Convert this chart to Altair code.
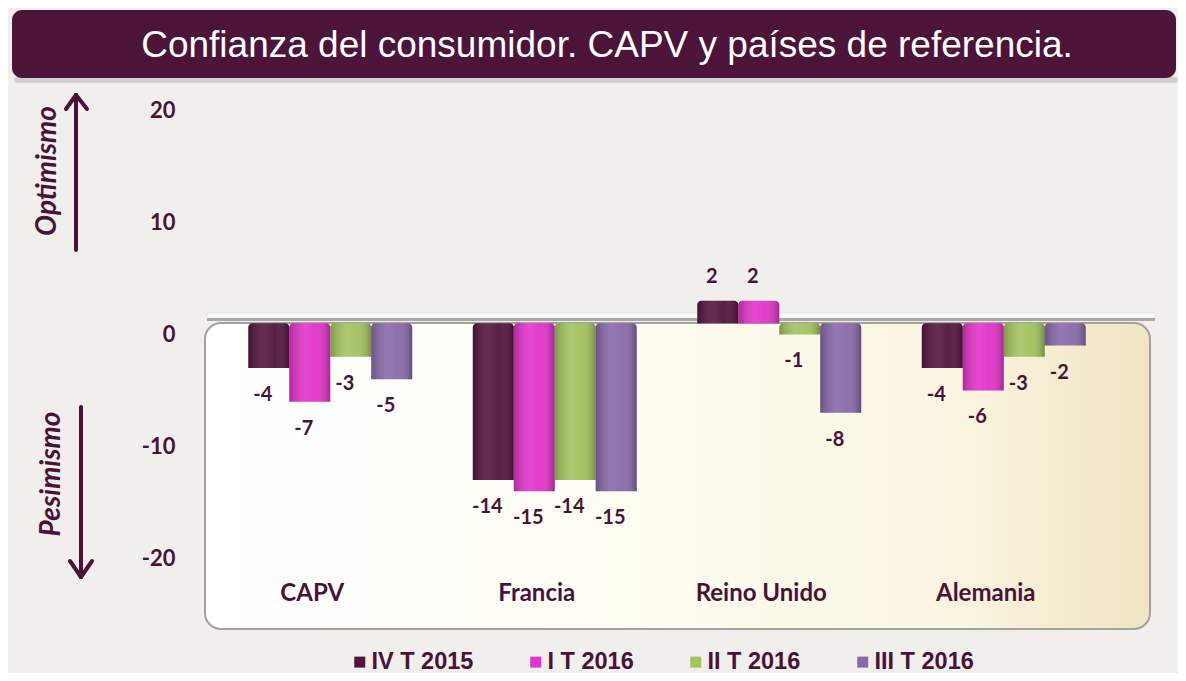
import altair as alt
import pandas as pd

# ---- data ----
countries = ["CAPV", "Francia", "Reino Unido", "Alemania"]
series = ["IV T 2015", "I T 2016", "II T 2016", "III T 2016"]
v_iv2015 = [-4, -14, 2, -4]
v_i2016 = [-7, -15, 2, -6]
v_ii2016 = [-3, -14, -1, -3]
v_iii2016 = [-5, -15, -8, -2]
colors = ["#52163e", "#e233ca", "#a3c35f", "#8869a9"]
y_ticks = [20, 10, 0, -10, -20]
title_text = "Confianza del consumidor. CAPV y países de referencia."
label_up = "Optimismo"
label_down = "Pesimismo"

rows = []
for s, vals in zip(series, [v_iv2015, v_i2016, v_ii2016, v_iii2016]):
    for c, v in zip(countries, vals):
        rows.append({"pais": c, "serie": s, "valor": v})
df = pd.DataFrame(rows)
one = pd.DataFrame({"k": [0]})

DARK = "#4b1239"
W, H = 898, 482

x_enc = alt.X("pais:N", sort=countries,
              scale=alt.Scale(domain=countries, paddingInner=0.27, paddingOuter=0.135),
              axis=alt.Axis(title=None, orient="bottom", labelAngle=0, domain=False, ticks=False,
                            labelFont="Lato", labelFontWeight="bold", labelFontSize=24,
                            labelColor=DARK, labelPadding=0, labelOffset=-18, zindex=2))
xo_enc = alt.XOffset("serie:N", sort=series,
                     scale=alt.Scale(domain=series, paddingInner=0, paddingOuter=0))
y_enc = alt.Y("valor:Q", stack=None,
              scale=alt.Scale(domain=[-23, 20], nice=False, zero=False),
              axis=alt.Axis(values=y_ticks, title=None, grid=False, domain=False, ticks=False,
                            labelExpr="datum.value + ''",
                            labelFont="Lato", labelFontWeight="bold", labelFontSize=22,
                            labelColor=DARK, labelPadding=43, labelOffset=11, zindex=2))

base = alt.Chart(df).transform_calculate(lab="'' + datum.valor")

bars = base.mark_bar(cornerRadiusEnd=4).encode(
    x=x_enc, xOffset=xo_enc, y=y_enc,
    color=alt.Color("serie:N", sort=series,
                    scale=alt.Scale(domain=series, range=colors),
                    legend=alt.Legend(title=None, orient="none", legendX=130, legendY=551,
                                      direction="horizontal", symbolType="square",
                                      symbolSize=121, symbolStrokeWidth=0, symbolOpacity=1,
                                      labelFont="Liberation Sans", labelFontWeight="bold",
                                      labelFontSize=23.5, labelColor=DARK, labelOffset=0,
                                      columnPadding=50, padding=0)),
)

shade = base.mark_bar(
    cornerRadiusEnd=4,
    fill=alt.LinearGradient(
        gradient="linear", x1=0, x2=1, y1=0, y2=0,
        stops=[alt.GradientStop(offset=0, color="rgba(0,0,0,0.22)"),
               alt.GradientStop(offset=0.4, color="rgba(255,255,255,0.10)"),
               alt.GradientStop(offset=0.65, color="rgba(255,255,255,0.04)"),
               alt.GradientStop(offset=1, color="rgba(0,0,0,0.28)")]),
).encode(x=x_enc, xOffset=xo_enc, y=y_enc)

lbl_neg = base.transform_filter("datum.valor < 0").mark_text(
    font="Lato", fontWeight="bold", fontSize=20, color=DARK, baseline="middle", dy=27, dx=-6
).encode(x=x_enc, xOffset=xo_enc, y=y_enc, text="lab:N")

lbl_pos = base.transform_filter("datum.valor >= 0").mark_text(
    font="Lato", fontWeight="bold", fontSize=20, color=DARK, baseline="middle", dy=-24, dx=-6
).encode(x=x_enc, xOffset=xo_enc, y=y_enc, text="lab:N")

deco = alt.Chart(one)

def box(x1, x2, y1, y2, **kw):
    return deco.mark_rect(**kw).encode(x=alt.value(x1), x2=alt.value(x2),
                                       y=alt.value(y1), y2=alt.value(y2))

def seg(x1, y1, x2, y2, w=4):
    return deco.mark_rule(color=DARK, strokeWidth=w, strokeCap="round").encode(
        x=alt.value(x1), y=alt.value(y1), x2=alt.value(x2), y2=alt.value(y2))

title_shadow = box(-204, 960, -22, -16, color="#c4c2be", opacity=0.7, cornerRadius=4)
title_bar = box(-206, 958, -89, -21, color="#4c1439", cornerRadius=10)
title_txt = deco.mark_text(font="Liberation Sans", fontSize=37, color="white",
                           baseline="alphabetic", align="center").encode(
    x=alt.value(389), y=alt.value(-42), text=alt.value(title_text))

panel = box(-13, 932, 224, 530, cornerRadius=16, stroke="#a3a199", strokeWidth=2,
            fill=alt.LinearGradient(
                gradient="linear", x1=0, x2=1, y1=0, y2=0,
                stops=[alt.GradientStop(offset=0, color="#ffffff"),
                       alt.GradientStop(offset=0.45, color="#fefdf2"),
                       alt.GradientStop(offset=0.8, color="#fbf5e0"),
                       alt.GradientStop(offset=1, color="#efe5c4")]))
rim_light = box(-11, 937, 214, 219, color="#fbfbf8", stroke="#d6d5d0", strokeWidth=0.5)
rim_dark = box(-11, 937, 219, 222, color="#a9a8a2")

arrow_up = [seg(-142, 151, -142, -4), seg(-142, -4, -152, 10), seg(-142, -4, -131, 10)]
arrow_dn = [seg(-137, 308, -137, 478), seg(-137, 478, -148, 462), seg(-137, 478, -126, 462)]
txt_up = deco.mark_text(font="Lato", fontWeight="bold", fontStyle="italic", fontSize=28,
                        color=DARK, angle=270, baseline="middle", align="center").encode(
    x=alt.value(-170), y=alt.value(72), text=alt.value(label_up))
txt_dn = deco.mark_text(font="Lato", fontWeight="bold", fontStyle="italic", fontSize=28,
                        color=DARK, angle=270, baseline="middle", align="center").encode(
    x=alt.value(-166), y=alt.value(375), text=alt.value(label_down))

chart = alt.layer(
    title_shadow, title_bar, title_txt, panel, rim_light, rim_dark,
    bars, shade, lbl_neg, lbl_pos,
    *arrow_up, *arrow_dn, txt_up, txt_dn,
).properties(
    width=W, height=H,
    autosize=alt.AutoSizeParams(type="none"),
    padding={"left": 210, "top": 91, "right": 62, "bottom": 92},
).configure(background="#f0efec").configure_view(stroke=None)

chart.save("out.html", embed_options={"renderer": "svg", "actions": False})
